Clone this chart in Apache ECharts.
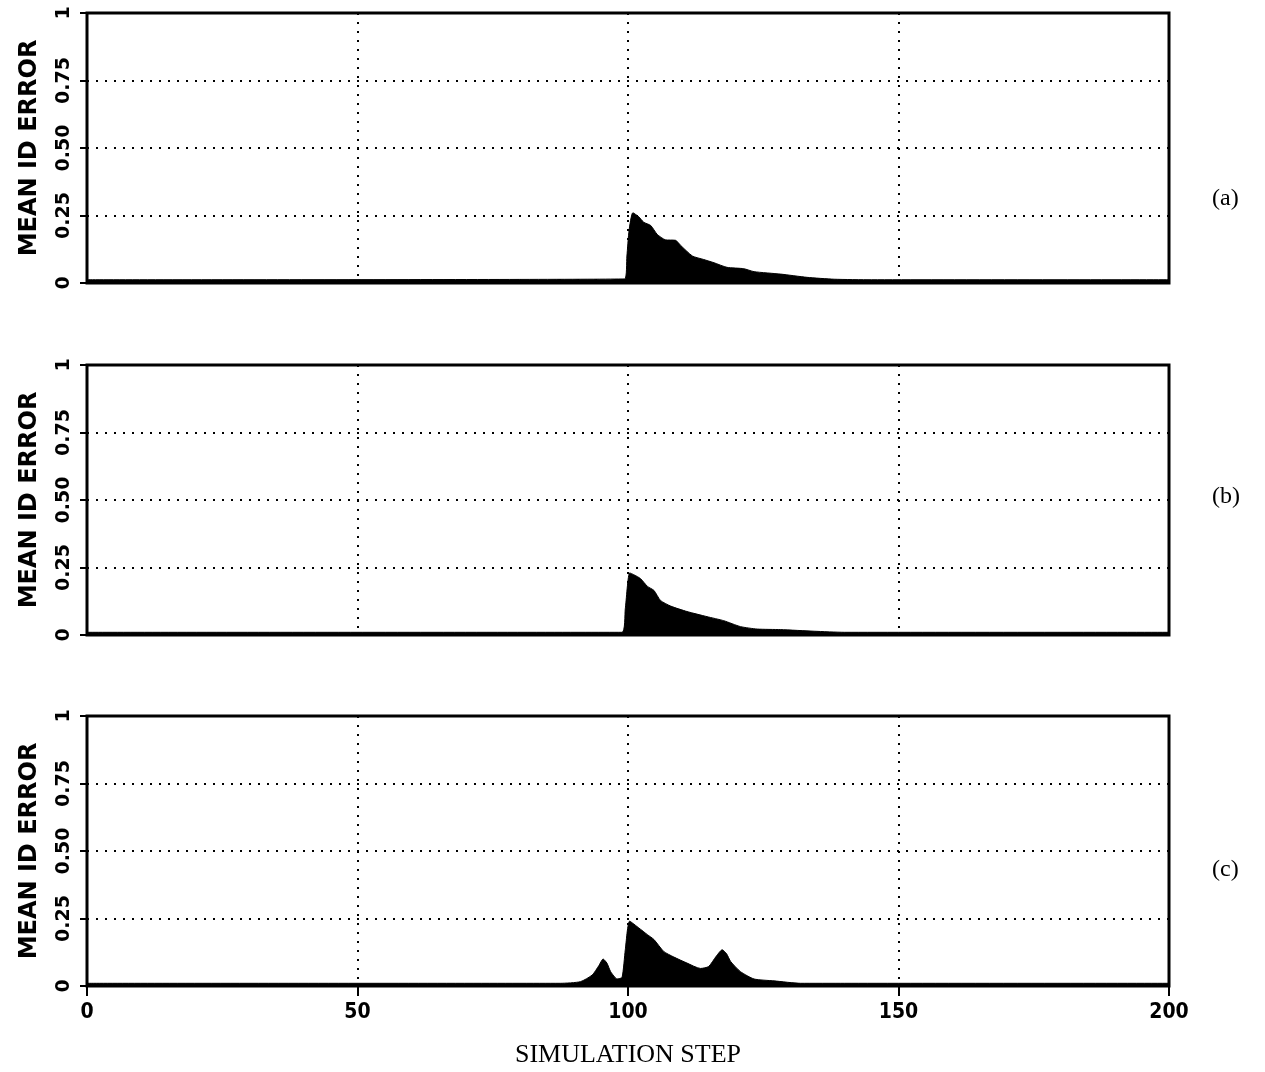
<!DOCTYPE html>
<html><head><meta charset="utf-8">
<script src="https://cdn.jsdelivr.net/npm/echarts@6/dist/echarts.min.js"></script>
<style>html,body{margin:0;padding:0;background:#fff}#c{width:1265px;height:1072px}</style>
</head><body><div id="c"></div>
<script>
const xTicks = [0, 50, 100, 150, 200];
const yTicks = [0, 0.25, 0.5, 0.75, 1];
const panelLabels = ['(a)', '(b)', '(c)'];

const stepsA = [0, 99.4, 99.8, 100.2, 100.9, 102.0, 102.9, 104.2, 105.4, 106.9, 108.8, 109.7, 111.9, 114.0, 115.9, 118.3, 121.4, 123.3, 128.2, 133.1, 138.1, 145, 200];
const valsA  = [0.012, 0.015, 0.10, 0.195, 0.26, 0.245, 0.225, 0.213, 0.18, 0.16, 0.158, 0.14, 0.10, 0.087, 0.075, 0.058, 0.053, 0.042, 0.033, 0.021, 0.014, 0.012, 0.012];

const stepsB = [0, 98.9, 99.5, 100.3, 101.2, 102.3, 103.6, 104.8, 106.0, 107.9, 110.9, 114.6, 117.7, 120.8, 123.9, 128.2, 134.4, 140, 200];
const valsB  = [0.01, 0.01, 0.097, 0.23, 0.222, 0.209, 0.18, 0.165, 0.128, 0.107, 0.087, 0.068, 0.053, 0.031, 0.022, 0.02, 0.014, 0.01, 0.01];

const stepsC = [0, 87.5, 91.2, 93.4, 94.6, 95.4, 96.1, 96.8, 98.0, 98.9, 99.5, 100.3, 102.0, 103.6, 104.8, 106.6, 108.5, 110.9, 113.4, 114.9, 116.3, 117.4, 118.2, 119.0, 120.8, 123.3, 127.0, 131.9, 140, 200];
const valsC  = [0.01, 0.01, 0.016, 0.041, 0.075, 0.10, 0.085, 0.053, 0.026, 0.032, 0.134, 0.24, 0.215, 0.19, 0.172, 0.128, 0.107, 0.085, 0.065, 0.072, 0.11, 0.134, 0.12, 0.09, 0.053, 0.026, 0.019, 0.01, 0.01, 0.01];

const panels = [[stepsA, valsA], [stepsB, valsB], [stepsC, valsC]];
const tops = [13, 365, 716];
const gridH = 270;
const labelTops = [182, 480, 853];

const chart = echarts.init(document.getElementById('c'));
const dotted = {color: '#000', width: 2, type: [2, 7]};
const option = {
  animation: false,
  backgroundColor: '#fff',
  grid: tops.map(t => ({left: 87, right: 96, top: t, height: gridH, show: true,
    borderColor: '#000', borderWidth: 3, backgroundColor: 'transparent'})),
  title: panelLabels.map((l, i) => ({text: l, left: 1207, top: labelTops[i],
    textStyle: {fontFamily: 'Liberation Serif', fontWeight: 'normal', fontSize: 24, color: '#000'}})),
  xAxis: panels.map((p, i) => ({
    type: 'value', gridIndex: i, min: 0, max: 200, interval: 50,
    axisLine: {show: false},
    axisTick: {show: i === 2, length: 10, lineStyle: {color: '#000', width: 2}},
    axisLabel: {show: i === 2, margin: 16, fontFamily: 'DejaVu Sans Condensed', fontWeight: 'bold', fontSize: 21, color: '#000',
      customValues: xTicks, formatter: v => String(v)},
    splitLine: {show: true, lineStyle: dotted},
    name: i === 2 ? 'SIMULATION STEP' : '', nameLocation: 'middle', nameGap: 56,
    nameTextStyle: {fontFamily: 'Liberation Serif', fontSize: 26, color: '#000'}
  })),
  yAxis: panels.map((p, i) => ({
    type: 'value', gridIndex: i, min: 0, max: 1, interval: 0.25,
    axisLine: {show: false},
    axisTick: {show: true, length: 7, lineStyle: {color: '#000', width: 2}},
    axisLabel: {rotate: 90, margin: 13, fontFamily: 'DejaVu Sans', fontWeight: 'bold', fontSize: 19, color: '#000',
      customValues: yTicks, formatter: v => v === 0 ? '0' : v === 1 ? '1' : v.toFixed(2)},
    splitLine: {show: true, lineStyle: dotted},
    name: 'MEAN ID ERROR', nameLocation: 'middle', nameGap: 45,
    nameTextStyle: {fontFamily: 'DejaVu Sans', fontWeight: 'bold', fontSize: 24, color: '#000'}
  })),
  series: panels.map((p, i) => ({
    type: 'line', xAxisIndex: i, yAxisIndex: i, symbol: 'none',
    smooth: 0.2,
    data: p[0].map((x, k) => [x, p[1][k]]),
    lineStyle: {color: '#000', width: 1},
    areaStyle: {color: '#000', opacity: 1},
    z: 3
  }))
};
chart.setOption(option);
</script></body></html>
